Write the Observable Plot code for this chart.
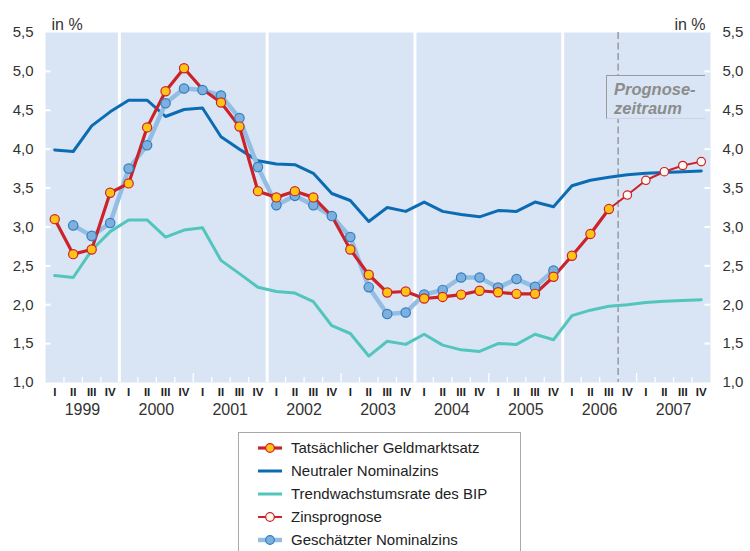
<!DOCTYPE html>
<html>
<head>
<meta charset="utf-8">
<script src="https://cdn.jsdelivr.net/npm/d3@7"></script>
<script src="https://cdn.jsdelivr.net/npm/@observablehq/plot@0.6"></script>
<style>
  body { margin: 0; background: #fff; font-family: Arial, "Liberation Sans", sans-serif; }
  #wrap { position: relative; width: 750px; height: 551px; overflow: hidden; }
  #legend { position: absolute; left: 238px; top: 432px; width: 283px; height: 140px;
            border: 1px solid #aaa; box-sizing: border-box; background: #fff; }
  .item { position: absolute; left: 18px; height: 20px; display: flex; align-items: center;
          font-size: 15px; color: #222; }
  .item svg { margin-right: 8px; }
  #prog { position: absolute; left: 606px; top: 75px; width: 99px; height: 44px; box-sizing: border-box;
          background: #d9e5f4; border-left: 1.5px solid #9a9a9a; border-top: 1.5px solid #9a9a9a;
          border-bottom: 1px solid #c9d3e2;
          color: #8c8c8c; font-weight: bold; font-style: italic; font-size: 16.5px; line-height: 18.5px;
          padding: 4px 0 0 7px; }
</style>
</head>
<body>
<div id="wrap"></div>
<script>
// ---- data (quarter index 0 = 1999 Q1 ... 35 = 2007 Q4) ----
const years = [1999, 2000, 2001, 2002, 2003, 2004, 2005, 2006, 2007];
const quarterLabels = ["I", "II", "III", "IV"];
const yTicks = [1.0, 1.5, 2.0, 2.5, 3.0, 3.5, 4.0, 4.5, 5.0, 5.5];

// Tatsächlicher Geldmarktsatz, 1999 Q1 – 2006 Q3
const geldmarkt = [3.10, 2.65, 2.71, 3.44, 3.56, 4.28, 4.745, 5.04, 4.77, 4.60, 4.29, 3.46,
                   3.38, 3.46, 3.38, 3.14, 2.71, 2.385, 2.157, 2.17, 2.08, 2.10, 2.13, 2.18,
                   2.16, 2.14, 2.14, 2.36, 2.63, 2.91, 3.23];
const geldmarktOhneMarker = [8, 15];
// Zinsprognose, 2006 Q3 – 2007 Q4 (first value = last observed)
const prognoseStart = 30;
const prognose = [3.23, 3.41, 3.60, 3.71, 3.79, 3.84];
// Geschätzter Nominalzins, 1999 Q2 – 2005 Q4
const geschaetztStart = 1;
const geschaetzt = [3.02, 2.885, 3.05, 3.75, 4.05, 4.59, 4.78, 4.76, 4.69, 4.40, 3.77,
                    3.28, 3.40, 3.28, 3.14, 2.87, 2.225, 1.88, 1.90, 2.13, 2.19, 2.35, 2.35,
                    2.22, 2.33, 2.23, 2.44];
// Neutraler Nominalzins
const neutral = [3.99, 3.97, 4.30, 4.48, 4.63, 4.63, 4.42, 4.51, 4.53, 4.16, 4.00, 3.85,
                 3.81, 3.80, 3.69, 3.43, 3.34, 3.07, 3.25, 3.20, 3.32, 3.20, 3.16, 3.13,
                 3.21, 3.20, 3.32, 3.26, 3.53, 3.60, 3.64, 3.67, 3.69, 3.70, 3.71, 3.72];
// Trendwachstumsrate des BIP
const trend = [2.375, 2.35, 2.70, 2.94, 3.09, 3.09, 2.87, 2.96, 2.99, 2.57, 2.40, 2.225,
               2.17, 2.15, 2.04, 1.73, 1.63, 1.34, 1.53, 1.49, 1.62, 1.48, 1.42, 1.40,
               1.50, 1.49, 1.62, 1.55, 1.86, 1.93, 1.98, 2.00, 2.03, 2.045, 2.055, 2.065];

const prognoseLineAt = 30.5;           // Beginn Prognosezeitraum (zwischen 2006 III und IV)
const separators = [3.5, 11.5, 19.5, 27.5]; // weiße Trennlinien

// ---- derived tables ----
const toRows = (arr, start = 0) => arr.map((v, k) => ({i: start + k, v}));
const rGeld = toRows(geldmarkt);
const rProg = toRows(prognose, prognoseStart);
const rGesch = toRows(geschaetzt, geschaetztStart);
const rNeutral = toRows(neutral);
const rTrend = toRows(trend);
const nQ = years.length * 4;
const quarters = d3.range(nQ).map(i => ({i, label: quarterLabels[i % 4]}));
const yearRows = years.map((y, k) => ({i: k * 4 + 1.5, label: String(y)}));
const qBounds = d3.range(nQ - 1).map(i => i + 0.5).filter(b => !separators.includes(b));
const smallTicks = qBounds.filter(b => (b + 0.5) % 4 !== 0);
const yearTicks = qBounds.filter(b => (b + 0.5) % 4 === 0);
const fmt = d => d.toFixed(1).replace(".", ",");

const RED = "#cc2229", YEL = "#fec314", DBLUE = "#0b6cb4", TEAL = "#52c5bd",
      LBLUE = "#93bde3", BDOT = "#7fb0dd", BDOTS = "#2f7fc1", BG = "#d9e5f4";

const plot = Plot.plot({
  width: 750,
  height: 432,
  marginLeft: 45,
  marginRight: 40,
  marginTop: 32,
  marginBottom: 50,
  style: {fontFamily: 'Arial, "Liberation Sans", sans-serif', background: "white", overflow: "visible"},
  x: {domain: [-0.5, nQ - 0.5], axis: null},
  y: {domain: [1, 5.5], axis: null},
  marks: [
    Plot.frame({fill: BG, stroke: null}),
    Plot.ruleX(separators, {stroke: "white", strokeWidth: 3}),
    Plot.ruleX(smallTicks, {y1: 1, y2: 1.065, stroke: "white", strokeWidth: 1.3}),
    Plot.ruleX(yearTicks, {y1: 1, y2: 1.115, stroke: "white", strokeWidth: 1.3}),
    Plot.ruleY(yTicks.slice(1, -1), {x1: -0.5, x2: -0.2, stroke: "white", strokeWidth: 2}),
    Plot.ruleY(yTicks.slice(1, -1), {x1: nQ - 0.8, x2: nQ - 0.5, stroke: "white", strokeWidth: 2}),
    Plot.ruleX([prognoseLineAt], {stroke: "#9a9a9a", strokeWidth: 1.5, strokeDasharray: "7,3.5"}),

    Plot.line(rTrend, {x: "i", y: "v", stroke: TEAL, strokeWidth: 3}),
    Plot.line(rNeutral, {x: "i", y: "v", stroke: DBLUE, strokeWidth: 3}),
    Plot.line(rGesch, {x: "i", y: "v", stroke: LBLUE, strokeWidth: 4.5}),
    Plot.line(rGeld, {x: "i", y: "v", stroke: RED, strokeWidth: 3.2}),
    Plot.line(rProg, {x: "i", y: "v", stroke: RED, strokeWidth: 2}),
    Plot.dot(rGesch, {x: "i", y: "v", r: 4.7, fill: BDOT, stroke: BDOTS, strokeWidth: 1.2}),
    Plot.dot(rGeld, {x: "i", y: "v", r: 4.6, fill: YEL, stroke: RED, strokeWidth: 1.2,
                     filter: d => !geldmarktOhneMarker.includes(d.i)}),
    Plot.dot(rProg.slice(1), {x: "i", y: "v", r: 4.2, fill: "#fffaf0", stroke: RED, strokeWidth: 1.2}),

    // axes
    Plot.text(yTicks, {y: d => d, text: fmt, frameAnchor: "left", textAnchor: "end", dx: -12,
                       fontSize: 15, fill: "#333"}),
    Plot.text(yTicks, {y: d => d, text: fmt, frameAnchor: "right", textAnchor: "start", dx: 12,
                       fontSize: 15, fill: "#333"}),
    Plot.text(["in %"], {frameAnchor: "top-left", textAnchor: "start", dx: 6, dy: -14, fontSize: 16, fill: "#333"}),
    Plot.text(["in %"], {frameAnchor: "top-right", textAnchor: "end", dx: -5, dy: -14, fontSize: 16, fill: "#333"}),
    Plot.text(quarters, {x: "i", text: "label", frameAnchor: "bottom", dy: 13, fontSize: 11.5,
                         fontWeight: "bold", fill: "#222"}),
    Plot.text(yearRows, {x: "i", text: "label", frameAnchor: "bottom", dy: 32, fontSize: 16, fill: "#333"})
  ]
});

const wrap = document.getElementById("wrap");
wrap.appendChild(plot);

// Prognose box
const prog = document.createElement("div");
prog.id = "prog";
prog.innerHTML = "Prognose-<br>zeitraum";
wrap.appendChild(prog);

// Legend
const legendItems = [
  {label: "Tatsächlicher Geldmarktsatz", stroke: RED, w: 3.2, dotFill: YEL, dotStroke: RED},
  {label: "Neutraler Nominalzins", stroke: DBLUE, w: 3},
  {label: "Trendwachstumsrate des BIP", stroke: TEAL, w: 3},
  {label: "Zinsprognose", stroke: RED, w: 2, dotFill: "#fffaf0", dotStroke: RED},
  {label: "Geschätzter Nominalzins", stroke: LBLUE, w: 4.5, dotFill: BDOT, dotStroke: BDOTS}
];
const legend = document.createElement("div");
legend.id = "legend";
legendItems.forEach((it, k) => {
  const row = document.createElement("div");
  row.className = "item";
  row.style.top = (4.5 + k * 23) + "px";
  const dot = it.dotFill ? `<circle cx="13" cy="10" r="4.3" fill="${it.dotFill}" stroke="${it.dotStroke}" stroke-width="1.2"/>` : "";
  row.innerHTML = `<svg width="26" height="20"><line x1="1" x2="25" y1="10" y2="10" stroke="${it.stroke}" stroke-width="${it.w}"/>${dot}</svg><span>${it.label}</span>`;
  legend.appendChild(row);
});
wrap.appendChild(legend);
</script>
</body>
</html>
